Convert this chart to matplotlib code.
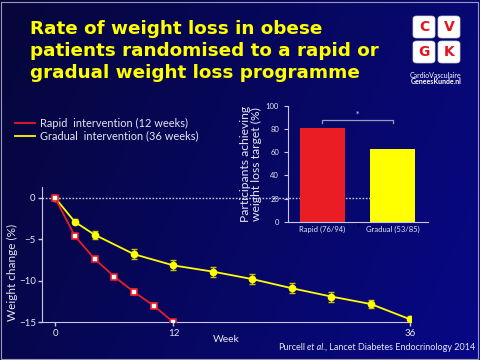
import numpy as np
import matplotlib.pyplot as plt
from matplotlib.patches import FancyBboxPatch, Rectangle
from matplotlib.lines import Line2D

# weight change (%) per week
rapid_weeks = [0, 2, 4, 6, 8, 10, 12]
rapid_change = [0, -4.6, -7.35, -9.5, -11.35, -13.0, -15.0]
rapid_err = [0, 0.2, 0.2, 0.2, 0.35, 0.3, 0.2]

gradual_weeks = [0, 2, 4, 8, 12, 16, 20, 24, 28, 32, 36]
gradual_change = [0, -2.9, -4.45, -6.8, -8.15, -8.9, -9.8, -10.9, -11.9, -12.8, -14.65]
gradual_err = [0, 0.3, 0.5, 0.6, 0.6, 0.6, 0.6, 0.6, 0.6, 0.5, 0.4]

# inset: participants achieving weight loss target
groups = ['Rapid (76/94)', 'Gradual (53/85)']
achieved = [80.9, 62.4]

title = 'Rate of weight loss in obese\npatients randomised to a rapid or\ngradual weight loss programme'

axis_col = '#c8c8e0'
txt_col = '#e6e6f2'
red = '#ea1c24'
yellow = '#ffff00'
font = 'Lato'

fig = plt.figure(figsize=(4.8, 3.6), dpi=100)

# background gradient
bg = fig.add_axes([0, 0, 1, 1], zorder=-10)
xx, yy = np.meshgrid(np.linspace(0, 1, 200), np.linspace(0, 1, 150))
t = np.clip(0.75 * xx + 0.25 * yy, 0, 1)
c0 = np.array([6, 6, 58]) / 255
c1 = np.array([8, 8, 135]) / 255
img = c0[None, None, :] * (1 - t[..., None]) + c1[None, None, :] * t[..., None]
bg.imshow(img, aspect='auto', extent=[0, 1, 0, 1], origin='upper')
bg.add_patch(Rectangle((0.002, 0.004), 0.994, 0.99, fill=False, ec='#9a9ab8', lw=0.8))
bg.set_xlim(0, 1)
bg.set_ylim(0, 1)
bg.axis('off')

fig.text(0.062, 1 - 20 / 360, title, color=yellow, fontsize=13.2, fontweight='bold',
         family='DejaVu Sans', va='top', linespacing=1.3)

# logo
for i, letter in enumerate(['C', 'V', 'G', 'K']):
    col, row = i % 2, i // 2
    x0 = 413 + col * 25
    y0 = 16 + row * 25
    bg.add_patch(FancyBboxPatch((x0 / 480, 1 - (y0 + 22) / 360), 22 / 480, 22 / 360,
                                boxstyle='round,pad=0,rounding_size=0.008',
                                fc='white', ec='#d0d0d0', lw=0.5))
    bg.text((x0 + 11) / 480, 1 - (y0 + 11) / 360, letter, color='#e0141e',
            fontsize=10, fontweight='bold', family='DejaVu Sans', ha='center', va='center')
bg.text(436 / 480, 1 - 75 / 360, 'CardioVasculaire', color='white', fontsize=5,
        family=font, ha='center', va='center')
bg.text(436 / 480, 1 - 82 / 360, 'GeneesKunde.nl', color='white', fontsize=5,
        family=font, ha='center', va='center', fontweight='bold')

# main chart
ax = fig.add_axes([42 / 480, 1 - 322.3 / 360, 369 / 480, 135.3 / 360])
ax.set_facecolor('none')
ax.axhline(0, color=axis_col, lw=1, ls=(0, (1.2, 1.2)), zorder=1)
ax.errorbar(gradual_weeks, gradual_change, yerr=gradual_err, color=yellow, lw=1.3,
            marker='o', ms=4.5, mfc=yellow, mec=yellow, ecolor='#c8c400',
            elinewidth=1, capsize=2.5, zorder=3)
ax.errorbar(rapid_weeks, rapid_change, yerr=rapid_err, color=red, lw=1.3,
            marker='s', ms=4, mfc='white', mec=red, mew=1.2, ecolor=red,
            elinewidth=1, capsize=2.5, zorder=4)
ax.set_xlim(-1.32, 36.07)
ax.set_ylim(-15, 1.29)
ax.set_xticks([0, 12, 36])
ax.set_yticks([0, -5, -10, -15])
ax.set_yticklabels(['0', '\u22125', '\u221210', '\u221215'])
for s in ['top', 'right']:
    ax.spines[s].set_visible(False)
for s in ['left', 'bottom']:
    ax.spines[s].set_color(axis_col)
ax.tick_params(colors=axis_col, labelcolor=txt_col, labelsize=7, length=3, width=1, pad=1.5)
for lbl in ax.get_xticklabels() + ax.get_yticklabels():
    lbl.set_family(font)
fig.text(226 / 480, 1 - 340 / 360, 'Week', color=txt_col, fontsize=7.5, family=font,
         ha='center', va='center')
fig.text(12 / 480, 1 - 272 / 360, 'Weight change (%)', color=txt_col, fontsize=8.5,
         family=font, rotation=90, ha='center', va='center')

handles = [Line2D([], [], color=red, lw=1.3), Line2D([], [], color=yellow, lw=1.3)]
labels = ['Rapid  intervention (12 weeks)', 'Gradual  intervention (36 weeks)']
leg = fig.legend(handles, labels, loc='upper left', bbox_to_anchor=(0.02, 1 - 112 / 360),
                 frameon=False, handlelength=1.8, handletextpad=0.45, borderpad=0,
                 labelspacing=0.2, prop={'family': font, 'size': 7.9})
for text in leg.get_texts():
    text.set_color(txt_col)

# inset bar chart
ins = fig.add_axes([288 / 480, 1 - 221.7 / 360, 140 / 480, 116 / 360], zorder=5)
ins.set_facecolor('none')
ins.bar([0, 1], achieved, width=0.64, color=[red, yellow])
ins.set_xlim(-0.49, 1.5)
ins.set_ylim(0, 100)
ins.set_yticks(np.arange(0, 101, 20))
ins.set_xticks([0, 1])
ins.set_xticklabels(groups)
ins.set_xticks([0.5], minor=True)
for s in ['top', 'right']:
    ins.spines[s].set_visible(False)
for s in ['left', 'bottom']:
    ins.spines[s].set_color(axis_col)
ins.tick_params(colors=axis_col, labelcolor=txt_col, labelsize=5.5, length=3, width=0.8)
ins.tick_params(axis='x', which='major', length=0, pad=3)
ins.tick_params(axis='x', which='minor', length=3, width=0.8)
for lbl in ins.get_xticklabels() + ins.get_yticklabels():
    lbl.set_family(font)
ins.set_ylabel('Participants achieving\nweight loss target (%)', color=txt_col,
               fontsize=8.7, family=font, linespacing=1.0, labelpad=3)
ins.plot([-0.01, -0.01, 1.0, 1.0], [85.5, 87.5, 87.5, 85.5], color='#9a9ac0', lw=0.9)
ins.text(0.5, 93, '*', color=txt_col, fontsize=5, ha='center', va='center')

# citation with italic "et al."
r = fig.canvas.get_renderer()
cy = 1 - 348 / 360
t3 = fig.text(0.99, cy, ', Lancet Diabetes Endocrinology 2014', color=txt_col,
              fontsize=6.5, family=font, ha='right', va='center')
x3 = t3.get_window_extent(r).x0 / fig.bbox.width
t2 = fig.text(x3, cy, 'et al.', color=txt_col, fontsize=6.5, family=font,
              style='italic', ha='right', va='center')
x2 = t2.get_window_extent(r).x0 / fig.bbox.width
fig.text(x2 - 0.004, cy, 'Purcell', color=txt_col, fontsize=6.5, family=font,
         ha='right', va='center')

fig.savefig('out.png', dpi=100)
